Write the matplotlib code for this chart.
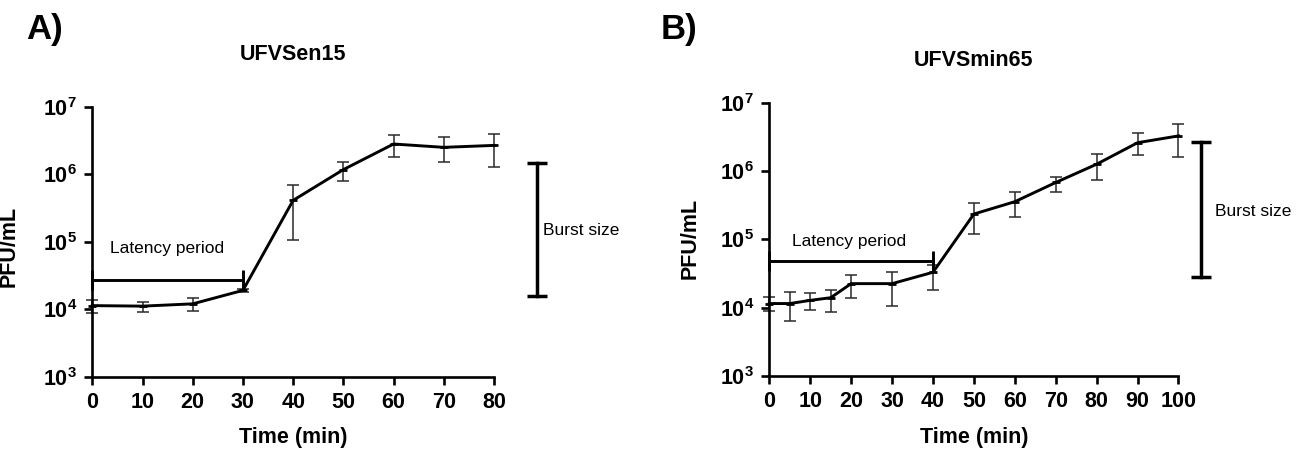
import numpy as np
import matplotlib
matplotlib.use("Agg")
import matplotlib.pyplot as plt

plt.rcParams['font.family'] = ['Liberation Sans', 'DejaVu Sans']
plt.rcParams['mathtext.fontset'] = 'custom'
plt.rcParams['mathtext.rm'] = 'Liberation Sans:bold'
plt.rcParams['mathtext.it'] = 'Liberation Sans:bold'
plt.rcParams['mathtext.bf'] = 'Liberation Sans:bold'

# UFVSen15 one-step growth curve (PFU/mL), mean with error bounds
t_a    = [0, 10, 20, 30, 40, 50, 60, 70, 80]
pfu_a  = [1.13e4, 1.11e4, 1.2e4, 1.9e4, 4.1e5, 1.17e6, 2.8e6, 2.5e6, 2.67e6]
low_a  = [8.7e3, 9.0e3, 9.5e3, 1.8e4, 1.05e5, 8.0e5, 1.8e6, 1.52e6, 1.3e6]
high_a = [1.38e4, 1.3e4, 1.47e4, 2.0e4, 6.9e5, 1.5e6, 3.75e6, 3.5e6, 4.0e6]

# UFVSmin65
t_b    = [0, 5, 10, 15, 20, 30, 40, 50, 60, 70, 80, 90, 100]
pfu_b  = [1.15e4, 1.15e4, 1.28e4, 1.4e4, 2.25e4, 2.25e4, 3.3e4, 2.35e5, 3.56e5,
          6.8e5, 1.26e6, 2.6e6, 3.27e6]
low_b  = [9.0e3, 6.4e3, 9.2e3, 8.7e3, 1.39e4, 1.05e4, 1.8e4, 1.2e5, 2.1e5,
          5.0e5, 7.4e5, 1.73e6, 1.58e6]
high_b = [1.43e4, 1.7e4, 1.64e4, 1.8e4, 2.97e4, 3.3e4, 4.2e4, 3.4e5, 4.9e5,
          8.25e5, 1.77e6, 3.57e6, 4.94e6]

# annotations: latency bar (start, end, level) and burst bar (x, low, high)
lat_a = (0, 30, 2.67e4)
lat_b = (0, 40, 4.8e4)
burst_a = (88.5, 1.57e4, 1.47e6)
burst_b = (105.4, 2.79e4, 2.65e6)

y_ticks = [1e3, 1e4, 1e5, 1e6, 1e7]
y_labels = [r'$10^{%d}$' % e for e in range(3, 8)]
x_ticks_a = [0, 10, 20, 30, 40, 50, 60, 70, 80]
x_ticks_b = [0, 10, 20, 30, 40, 50, 60, 70, 80, 90, 100]

fig = plt.figure(figsize=(13.09, 4.5), dpi=100)
ax_a = fig.add_axes([0.0705, 0.1629, 0.3069, 0.600])
ax_b = fig.add_axes([0.5877, 0.1644, 0.3126, 0.6073])


def draw_panel(ax, t, y, lo, hi, xmax, xticks, lat, burst, lat_text, burst_text):
    y = np.array(y)
    yerr = [y - np.array(lo), np.array(hi) - y]
    eb = ax.errorbar(t, y, yerr=yerr, fmt='none', ecolor='#2a2a2a', elinewidth=1.1,
                     capsize=4.5, capthick=1.1, zorder=2)
    for part in eb.get_children():
        part.set_clip_on(False)
    ax.plot(t, y, color='black', lw=2.1, zorder=3, clip_on=False)
    ax.plot(t, y, ls='none', marker='_', ms=6, mew=2, color='black', zorder=3,
            clip_on=False)

    # latency period bar
    ax.plot([lat[0], lat[1]], [lat[2], lat[2]], color='black', lw=2.1,
            marker='|', ms=14, mew=2.1, clip_on=False, zorder=4)
    ax.text(lat_text[0], lat_text[1], 'Latency period', fontsize=12.5,
            ha='left', va='center')

    # burst size bar
    ax.plot([burst[0], burst[0]], [burst[1], burst[2]], color='black', lw=2.5,
            marker='_', ms=15, mew=2.5, clip_on=False, zorder=4)
    ax.text(burst_text[0], burst_text[1], 'Burst size', fontsize=12.5,
            ha='left', va='center', clip_on=False)

    ax.set_yscale('log')
    ax.set_ylim(1e3, 1e7)
    ax.set_xlim(0, xmax)
    ax.set_yticks(y_ticks, labels=y_labels)
    ax.minorticks_off()
    ax.set_xticks(xticks)
    for s in ['top', 'right']:
        ax.spines[s].set_visible(False)
    for s in ['left', 'bottom']:
        ax.spines[s].set_linewidth(1.9)
    ax.tick_params(axis='both', length=6, width=1.9, labelsize=15.5, pad=5)
    for lab in ax.get_xticklabels():
        lab.set_fontweight('bold')
    ax.set_xlabel('Time (min)', fontsize=15.5, fontweight='bold')
    ax.set_ylabel('PFU/mL', fontsize=15.5, fontweight='bold')
    ax.xaxis.set_label_coords(0.5, -0.185)


draw_panel(ax_a, t_a, pfu_a, low_a, high_a, 80, x_ticks_a, lat_a, burst_a,
           (3.5, 7.87e4), (89.7, 1.46e5))
ax_a.yaxis.set_label_coords(-0.18, 0.484)

draw_panel(ax_b, t_b, pfu_b, low_b, high_b, 100, x_ticks_b, lat_b, burst_b,
           (5.6, 9.4e4), (108.9, 2.54e5))
ax_b.yaxis.set_label_coords(-0.168, 0.505)

fig.text(0.224, 0.878, 'UFVSen15', fontsize=15.5, fontweight='bold',
         ha='center', va='center')
fig.text(0.744, 0.866, 'UFVSmin65', fontsize=15.5, fontweight='bold',
         ha='center', va='center')
fig.text(0.02, 0.935, 'A)', fontsize=25, fontweight='bold', va='center')
fig.text(0.505, 0.935, 'B)', fontsize=25, fontweight='bold', va='center')

fig.savefig('out.png', dpi=100)
